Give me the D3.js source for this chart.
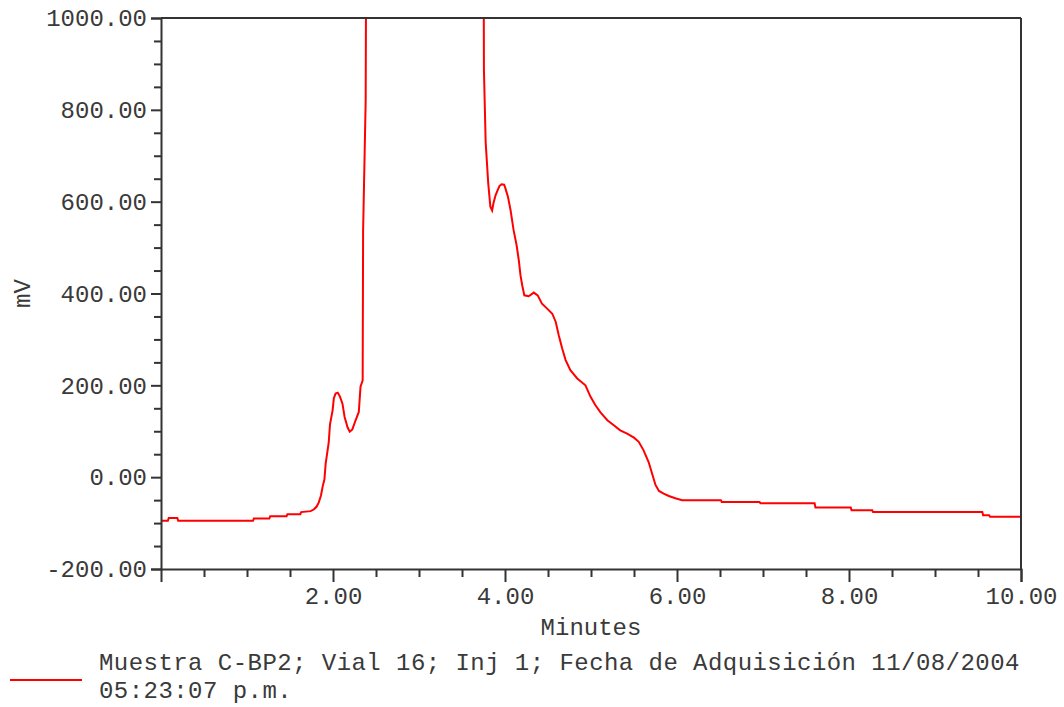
<!DOCTYPE html>
<html>
<head>
<meta charset="utf-8">
<script src="https://cdn.jsdelivr.net/npm/d3@7"></script>
<style>
  html, body { margin: 0; padding: 0; background: #fff; }
  svg { display: block; }
  text { font-family: "Liberation Mono", "Courier New", monospace; fill: #3a3a3a; }
</style>
</head>
<body>
<svg id="chart" width="1064" height="707"></svg>
<script>
// ---- Data ----
const times = [0.00, 0.08, 0.09, 0.19, 0.20, 1.07, 1.08, 1.26, 1.27, 1.46, 1.47, 1.62, 1.63, 1.74, 1.78,
  1.81, 1.835, 1.86, 1.88, 1.90, 1.915,
  1.95, 1.965, 1.995, 2.01, 2.03, 2.055, 2.08, 2.11, 2.135, 2.17, 2.195, 2.225, 2.265, 2.30, 2.32, 2.345,
  2.35, 2.38, 2.40, 3.00, 3.74,
  3.755, 3.775, 3.805, 3.83, 3.85, 3.865, 3.89, 3.915, 3.935, 3.96, 3.99, 4.005, 4.035, 4.065, 4.10,
  4.135, 4.16, 4.18, 4.20, 4.225, 4.275, 4.335, 4.38, 4.43, 4.49, 4.55, 4.59, 4.625, 4.665, 4.705,
  4.76, 4.84, 4.935, 4.995, 5.05, 5.11, 5.19, 5.265, 5.34, 5.42, 5.50, 5.555, 5.61, 5.67, 5.71, 5.75,
  5.79, 5.845, 5.905, 5.98, 6.06,
  6.51, 6.52, 6.96, 6.97, 7.60, 7.61, 8.02, 8.03, 8.27, 8.28, 9.55, 9.56, 9.63, 9.64, 10.00];
const signal = [-95, -95, -89, -89, -95, -95, -90, -90, -85, -85, -81, -81, -76, -74, -70,
  -64, -55, -40, -20, -5, 30,
  75, 115, 145, 172, 182, 184, 176, 160, 131, 108, 99, 104, 125, 142, 197, 211,
  534, 821, 2000, 2000, 2000,
  887, 730, 640, 589, 581, 596, 614, 625, 634, 638, 637, 629, 610, 581, 538,
  505, 473, 440, 418, 396, 394, 402, 396, 378, 367, 356, 338, 309, 280, 255,
  233, 215, 200, 175, 157, 141, 124, 113, 102, 95, 86, 77, 59, 33, 8, -17,
  -30, -36, -41, -46, -50,
  -50, -54, -54, -57, -57, -66, -66, -72, -72, -76, -76, -83, -83, -86, -86];
const xTickValues = [2, 4, 6, 8, 10];
const xTickLabels = ["2.00", "4.00", "6.00", "8.00", "10.00"];
const yTickValues = [-200, 0, 200, 400, 600, 800, 1000];
const yTickLabels = ["-200.00", "0.00", "200.00", "400.00", "600.00", "800.00", "1000.00"];
const xLabel = "Minutes";
const yLabel = "mV";
const legendLines = ["Muestra C-BP2; Vial 16; Inj 1; Fecha de Adquisición 11/08/2004", "05:23:07 p.m."];

// ---- Layout ----
const L = 161, R = 1021, T = 18, B = 569;
const svg = d3.select("#chart");

const x = d3.scaleLinear().domain([0, 10]).range([L, R]);
const y = d3.scaleLinear().domain([-200, 1000]).range([B, T]);

const axisColor = "#333";
const fontFam = "'Liberation Mono', 'Courier New', monospace";

// clip
svg.append("defs").append("clipPath").attr("id", "plotclip")
  .append("rect").attr("x", L).attr("y", T).attr("width", R - L).attr("height", B - T);

// trace
const data = times.map((t, i) => ({ t, v: signal[i] }));
svg.append("path")
  .datum(data)
  .attr("clip-path", "url(#plotclip)")
  .attr("fill", "none")
  .attr("stroke", "#ff0000")
  .attr("stroke-width", 2)
  .attr("stroke-linejoin", "miter")
  .attr("d", d3.line().x(d => x(d.t)).y(d => y(d.v)).curve(d3.curveLinear));

// frame: top and right lines
svg.append("line").attr("x1", L).attr("x2", R).attr("y1", T).attr("y2", T)
  .attr("stroke", axisColor).attr("stroke-width", 2);
svg.append("line").attr("x1", R).attr("x2", R).attr("y1", T).attr("y2", B)
  .attr("stroke", axisColor).attr("stroke-width", 2);

// Y axis
const yAxis = d3.axisLeft(y)
  .tickValues(yTickValues)
  .tickSize(10)
  .tickPadding(4)
  .tickFormat((d, i) => yTickLabels[i]);
const gy = svg.append("g").attr("transform", `translate(${L},0)`).call(yAxis);
gy.select(".domain").attr("stroke", axisColor).attr("stroke-width", 2);
gy.selectAll(".tick line").attr("stroke", axisColor).attr("stroke-width", 2);
gy.selectAll(".tick text").attr("font-size", 24).attr("fill", "#3a3a3a").style("font-family", fontFam);

// y minor ticks
const yMinor = d3.range(-200, 1000.1, 50).filter(v => v % 200 !== 0);
const gyMinor = svg.append("g").attr("transform", `translate(${L},0)`).call(
  d3.axisLeft(y).tickValues(yMinor).tickSize(7).tickFormat(""));
gyMinor.select(".domain").remove();
gyMinor.selectAll(".tick line").attr("stroke", axisColor).attr("stroke-width", 2);

// X axis
const xAxis = d3.axisBottom(x)
  .tickValues(xTickValues)
  .tickSize(13)
  .tickPadding(5)
  .tickFormat((d, i) => xTickLabels[i]);
const gx = svg.append("g").attr("transform", `translate(0,${B})`).call(xAxis);
gx.select(".domain").attr("stroke", axisColor).attr("stroke-width", 2);
gx.selectAll(".tick line").attr("stroke", axisColor).attr("stroke-width", 2);
gx.selectAll(".tick text").attr("font-size", 24).attr("fill", "#3a3a3a").style("font-family", fontFam);

// x minor ticks
const xMinor = d3.range(0.5, 10, 0.5).filter(v => Math.abs(v % 2) > 1e-9);
const gxMinor = svg.append("g").attr("transform", `translate(0,${B})`).call(
  d3.axisBottom(x).tickValues(xMinor).tickSize(8).tickFormat(""));
gxMinor.select(".domain").remove();
gxMinor.selectAll(".tick line").attr("stroke", axisColor).attr("stroke-width", 2);

// axis titles
svg.append("text").attr("x", (L + R) / 2).attr("y", 635)
  .attr("text-anchor", "middle").attr("font-size", 24).text(xLabel);
svg.append("text")
  .attr("transform", `translate(30,${(T + B) / 2}) rotate(-90)`)
  .attr("text-anchor", "middle").attr("font-size", 24).text(yLabel);

// legend
svg.append("line").attr("x1", 10).attr("x2", 82).attr("y1", 680).attr("y2", 680)
  .attr("stroke", "#ff0000").attr("stroke-width", 2);
legendLines.forEach((s, i) => {
  svg.append("text").attr("x", 99).attr("y", 670 + i * 28)
    .attr("font-size", 24).attr("letter-spacing", 0.45)
    .attr("xml:space", "preserve").text(s);
});
</script>
</body>
</html>
